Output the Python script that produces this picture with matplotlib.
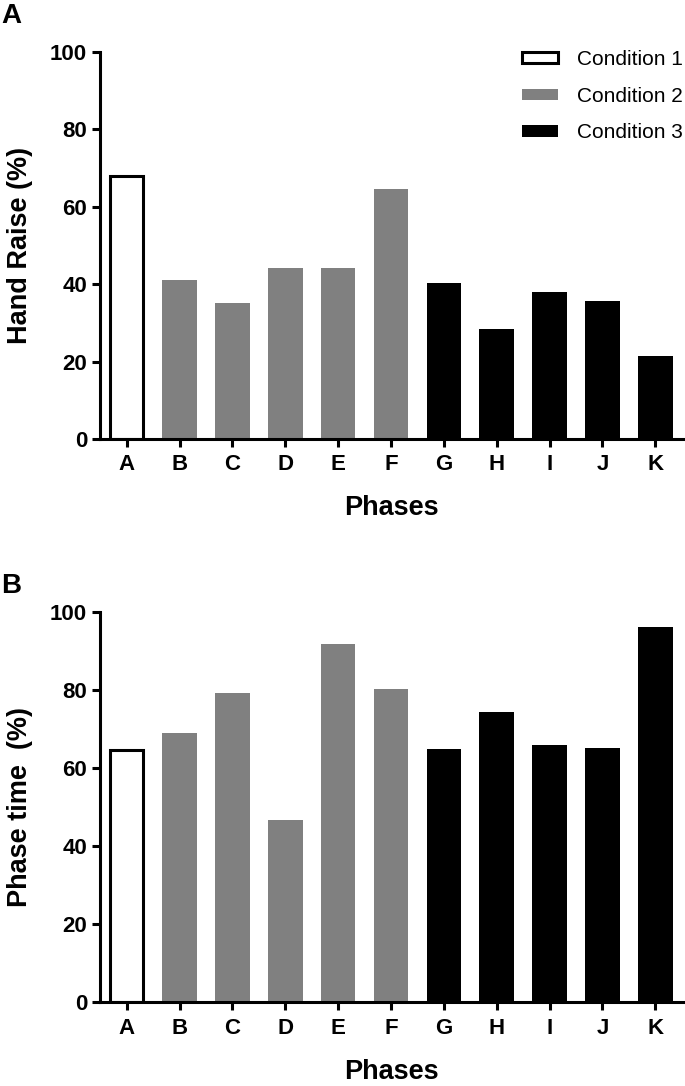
import matplotlib
matplotlib.use('Agg')
import matplotlib.pyplot as plt
from matplotlib.patches import Patch

plt.rcParams['font.family'] = ['Liberation Sans', 'DejaVu Sans']

phases = ['A', 'B', 'C', 'D', 'E', 'F', 'G', 'H', 'I', 'J', 'K']
condition = [1, 2, 2, 2, 2, 2, 3, 3, 3, 3, 3]
hand_raise = [68.0, 41.1, 35.2, 44.1, 44.1, 64.6, 40.4, 28.5, 37.9, 35.7, 21.4]
phase_time = [64.7, 69.0, 79.3, 46.7, 91.6, 80.3, 64.8, 74.3, 65.9, 65.1, 96.1]
cond_labels = ['Condition 1', 'Condition 2', 'Condition 3']

face = {1: 'white', 2: '#808080', 3: 'black'}
lw = 2.2

def draw(ax, values, ylabel):
    x = list(range(len(phases)))
    for i, v in enumerate(values):
        c = condition[i]
        if c == 1:
            ax.bar(x[i], v, width=0.62, color='white', edgecolor='black', linewidth=lw, zorder=2)
        else:
            ax.bar(x[i], v, width=0.655, color=face[c], linewidth=0, zorder=2)
    ax.set_xlim(-0.5, 10.52)
    ax.set_ylim(0, 100)
    ax.set_yticks([0, 20, 40, 60, 80, 100])
    ax.set_xticks(x)
    ax.set_xticklabels(phases)
    for s in ['top', 'right']:
        ax.spines[s].set_visible(False)
    for s in ['left', 'bottom']:
        ax.spines[s].set_linewidth(lw)
    ax.tick_params(axis='y', length=6, width=lw, pad=3.5, labelsize=16)
    ax.tick_params(axis='x', length=6, width=lw, pad=5, labelsize=16)
    for lab in ax.get_xticklabels() + ax.get_yticklabels():
        lab.set_fontweight('bold')
    ax.set_ylabel(ylabel, fontsize=19.5, fontweight='bold')
    ax.yaxis.set_label_coords(-0.1155, 0.5)
    ax.set_xlabel('Phases', fontsize=19.5, fontweight='bold')
    ax.xaxis.set_label_coords((5 + 0.5) / 11.02, -0.145)

fig = plt.figure(figsize=(6.85, 10.86), dpi=100)
ax1 = fig.add_axes([0.1464, 0.5956, 0.8504, 0.3568])
ax2 = fig.add_axes([0.1464, 0.0769, 0.8504, 0.3599])

draw(ax1, hand_raise, 'Hand Raise (%)')
draw(ax2, phase_time, 'Phase time  (%)')

handles = [Patch(facecolor='white', edgecolor='black', linewidth=lw),
           Patch(facecolor='#808080', edgecolor='none'),
           Patch(facecolor='black', edgecolor='none')]
fig.legend(handles, cond_labels, loc='upper right', bbox_to_anchor=(683 / 685, 1 - 50 / 1086),
           bbox_transform=fig.transFigure, frameon=False, fontsize=15, borderpad=0,
           borderaxespad=0, handlelength=1.75, handleheight=0.45, handletextpad=0.9,
           labelspacing=0.85)

fig.text(0.002, 1 - 23 / 1086, 'A', fontsize=20, fontweight='bold', va='baseline')
fig.text(0.002, 1 - 593 / 1086, 'B', fontsize=20, fontweight='bold', va='baseline')

fig.savefig('out.png', dpi=100)
